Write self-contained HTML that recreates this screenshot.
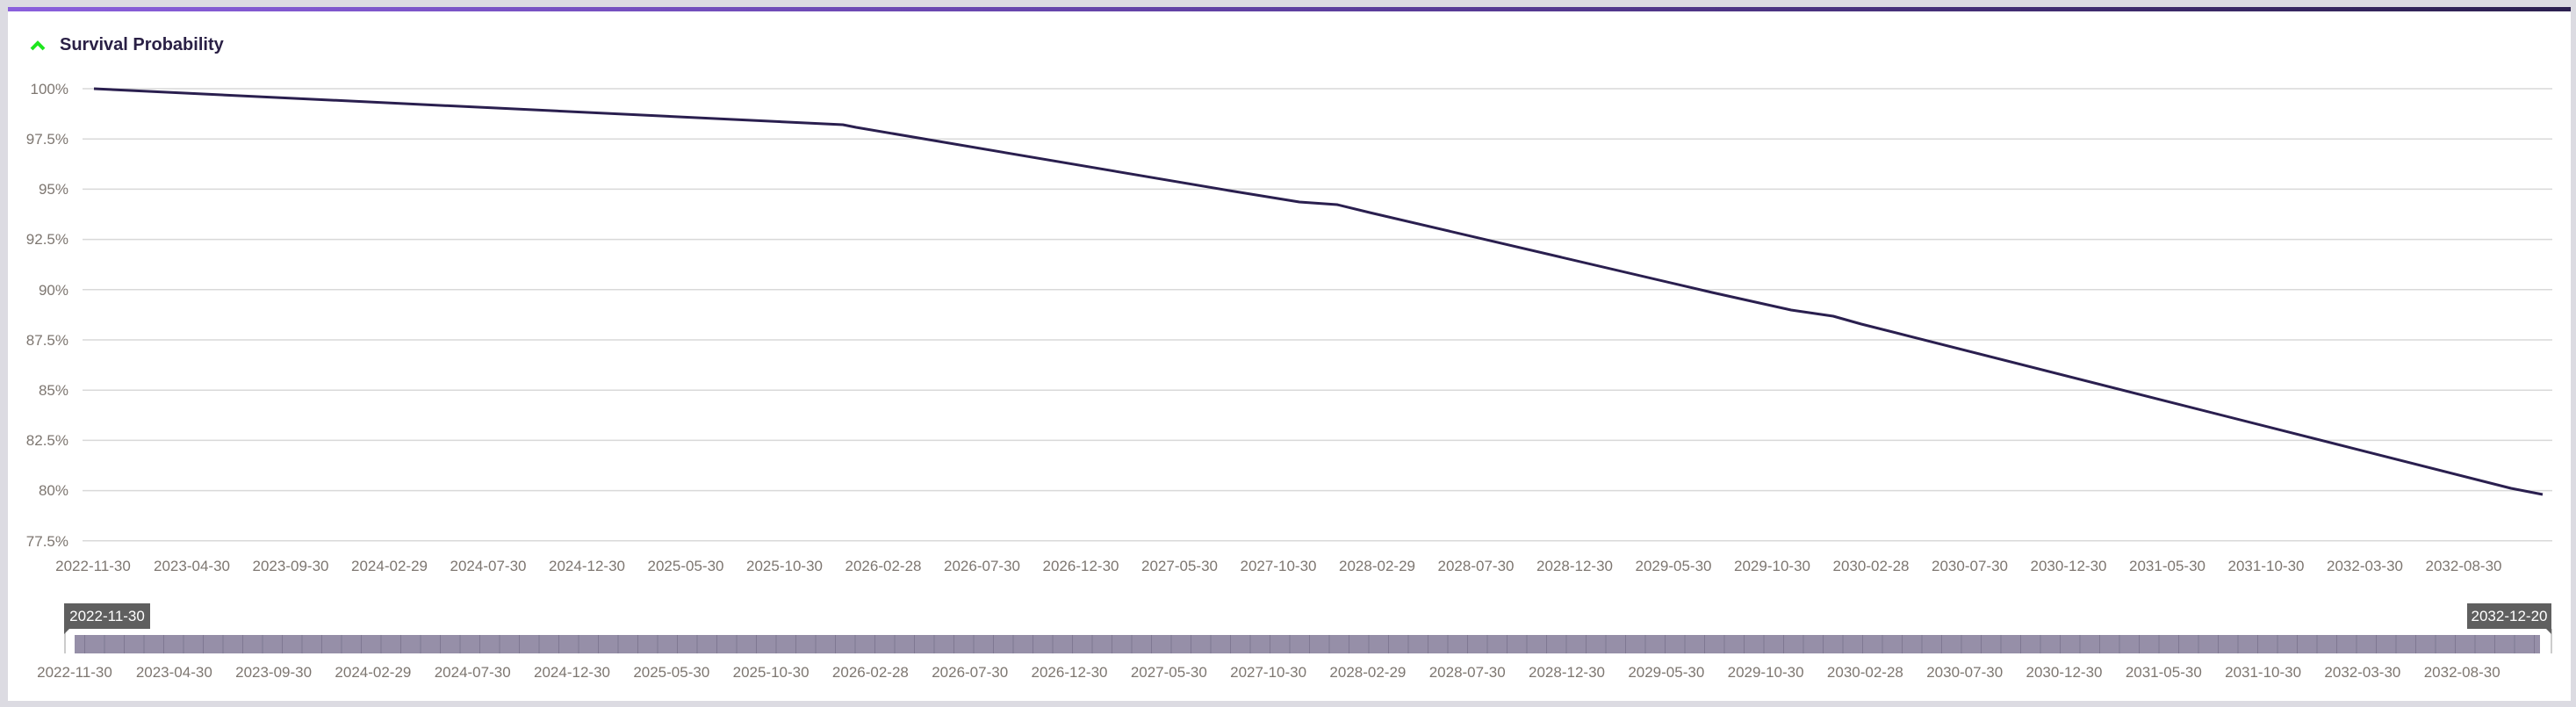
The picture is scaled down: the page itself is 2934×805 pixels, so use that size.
<!DOCTYPE html>
<html><head><meta charset="utf-8"><style>
html,body{margin:0;padding:0;background:#dcdbe2;}
svg{display:block;font-family:"Liberation Sans",sans-serif;}
</style></head><body>
<svg width="2934" height="805" viewBox="0 0 2934 805" xmlns="http://www.w3.org/2000/svg">
<defs><linearGradient id="tb" x1="0" x2="1" y1="0" y2="0"><stop offset="0" stop-color="#8a5fdc"/><stop offset="0.5" stop-color="#5e3fa0"/><stop offset="1" stop-color="#2c2050"/></linearGradient></defs>
<rect x="0" y="0" width="2934" height="805" fill="#dcdbe2"/>
<rect x="9" y="8" width="2919" height="790" fill="#fff"/>
<rect x="9" y="8" width="2919" height="5" fill="url(#tb)"/>
<path d="M36,56 L43,49 L50,56" fill="none" stroke="#1ee61e" stroke-width="4"/>
<text x="68" y="57" font-size="20" font-weight="bold" fill="#2a2045">Survival Probability</text>
<g stroke="#d9d9d9" stroke-width="1.5">
<line x1="94" x2="2907" y1="101" y2="101"/><line x1="94" x2="2907" y1="158.2" y2="158.2"/><line x1="94" x2="2907" y1="215.4" y2="215.4"/><line x1="94" x2="2907" y1="272.6" y2="272.6"/><line x1="94" x2="2907" y1="329.8" y2="329.8"/><line x1="94" x2="2907" y1="387" y2="387"/><line x1="94" x2="2907" y1="444.2" y2="444.2"/><line x1="94" x2="2907" y1="501.4" y2="501.4"/><line x1="94" x2="2907" y1="558.6" y2="558.6"/><line x1="94" x2="2907" y1="615.8" y2="615.8"/>
</g>
<g font-size="17" fill="#7d7670" text-anchor="end">
<text x="78" y="107">100%</text><text x="78" y="164">97.5%</text><text x="78" y="221">95%</text><text x="78" y="278">92.5%</text><text x="78" y="336">90%</text><text x="78" y="393">87.5%</text><text x="78" y="450">85%</text><text x="78" y="507">82.5%</text><text x="78" y="564">80%</text><text x="78" y="622">77.5%</text>
</g>
<path d="M107,101 L960,142 L975,145 L1400,217 L1480,230 L1523,233 L1560,242 L1950,333 L2040,353 L2088,360 L2120,369 L2860,556 L2896,563" fill="none" stroke="#2a1f4f" stroke-width="3" stroke-linejoin="round"/>
<g font-size="17" fill="#7d7670" text-anchor="middle">
<text x="106" y="650">2022-11-30</text><text x="218.5" y="650">2023-04-30</text><text x="331" y="650">2023-09-30</text><text x="443.5" y="650">2024-02-29</text><text x="556" y="650">2024-07-30</text><text x="668.5" y="650">2024-12-30</text><text x="781" y="650">2025-05-30</text><text x="893.5" y="650">2025-10-30</text><text x="1006" y="650">2026-02-28</text><text x="1118.5" y="650">2026-07-30</text><text x="1231" y="650">2026-12-30</text><text x="1343.5" y="650">2027-05-30</text><text x="1456" y="650">2027-10-30</text><text x="1568.5" y="650">2028-02-29</text><text x="1681" y="650">2028-07-30</text><text x="1793.5" y="650">2028-12-30</text><text x="1906" y="650">2029-05-30</text><text x="2018.5" y="650">2029-10-30</text><text x="2131" y="650">2030-02-28</text><text x="2243.5" y="650">2030-07-30</text><text x="2356" y="650">2030-12-30</text><text x="2468.5" y="650">2031-05-30</text><text x="2581" y="650">2031-10-30</text><text x="2693.5" y="650">2032-03-30</text><text x="2806" y="650">2032-08-30</text>
</g>
<rect x="85" y="723" width="2808" height="21" fill="#968fa8"/>
<g id="ticks" stroke="#7f7892" stroke-width="1"></g>
<line x1="74" y1="716" x2="74" y2="744" stroke="#bbb" stroke-width="1.5"/>
<line x1="2906" y1="716" x2="2906" y2="744" stroke="#bbb" stroke-width="1.5"/>
<rect x="73" y="687" width="98" height="29" fill="#5f5f5f"/>
<path d="M73,716 L73,722 L79,716Z" fill="#5f5f5f"/>
<text x="122" y="707" font-size="17" fill="#fff" text-anchor="middle">2022-11-30</text>
<rect x="2810" y="687" width="96" height="29" fill="#5f5f5f"/>
<path d="M2906,716 L2906,722 L2900,716Z" fill="#5f5f5f"/>
<text x="2858" y="707" font-size="17" fill="#fff" text-anchor="middle">2032-12-20</text>
<g font-size="17" fill="#7d7670" text-anchor="middle">
<text x="85" y="771">2022-11-30</text><text x="198.3" y="771">2023-04-30</text><text x="311.6" y="771">2023-09-30</text><text x="424.9" y="771">2024-02-29</text><text x="538.2" y="771">2024-07-30</text><text x="651.5" y="771">2024-12-30</text><text x="764.8" y="771">2025-05-30</text><text x="878.1" y="771">2025-10-30</text><text x="991.4" y="771">2026-02-28</text><text x="1104.7" y="771">2026-07-30</text><text x="1218" y="771">2026-12-30</text><text x="1331.3" y="771">2027-05-30</text><text x="1444.6" y="771">2027-10-30</text><text x="1557.9" y="771">2028-02-29</text><text x="1671.2" y="771">2028-07-30</text><text x="1784.5" y="771">2028-12-30</text><text x="1897.8" y="771">2029-05-30</text><text x="2011.1" y="771">2029-10-30</text><text x="2124.4" y="771">2030-02-28</text><text x="2237.7" y="771">2030-07-30</text><text x="2351" y="771">2030-12-30</text><text x="2464.3" y="771">2031-05-30</text><text x="2577.6" y="771">2031-10-30</text><text x="2690.9" y="771">2032-03-30</text><text x="2804.2" y="771">2032-08-30</text>
</g>
<path stroke="#7f7892" stroke-width="1" d="M96.5,723v21M119,723v21M141.5,723v21M164,723v21M186.5,723v21M209,723v21M231.5,723v21M254,723v21M276.5,723v21M299,723v21M321.5,723v21M344,723v21M366.5,723v21M389,723v21M411.5,723v21M434,723v21M456.5,723v21M479,723v21M501.5,723v21M524,723v21M546.5,723v21M569,723v21M591.5,723v21M614,723v21M636.5,723v21M659,723v21M681.5,723v21M704,723v21M726.5,723v21M749,723v21M771.5,723v21M794,723v21M816.5,723v21M839,723v21M861.5,723v21M884,723v21M906.5,723v21M929,723v21M951.5,723v21M974,723v21M996.5,723v21M1019,723v21M1041.5,723v21M1064,723v21M1086.5,723v21M1109,723v21M1131.5,723v21M1154,723v21M1176.5,723v21M1199,723v21M1221.5,723v21M1244,723v21M1266.5,723v21M1289,723v21M1311.5,723v21M1334,723v21M1356.5,723v21M1379,723v21M1401.5,723v21M1424,723v21M1446.5,723v21M1469,723v21M1491.5,723v21M1514,723v21M1536.5,723v21M1559,723v21M1581.5,723v21M1604,723v21M1626.5,723v21M1649,723v21M1671.5,723v21M1694,723v21M1716.5,723v21M1739,723v21M1761.5,723v21M1784,723v21M1806.5,723v21M1829,723v21M1851.5,723v21M1874,723v21M1896.5,723v21M1919,723v21M1941.5,723v21M1964,723v21M1986.5,723v21M2009,723v21M2031.5,723v21M2054,723v21M2076.5,723v21M2099,723v21M2121.5,723v21M2144,723v21M2166.5,723v21M2189,723v21M2211.5,723v21M2234,723v21M2256.5,723v21M2279,723v21M2301.5,723v21M2324,723v21M2346.5,723v21M2369,723v21M2391.5,723v21M2414,723v21M2436.5,723v21M2459,723v21M2481.5,723v21M2504,723v21M2526.5,723v21M2549,723v21M2571.5,723v21M2594,723v21M2616.5,723v21M2639,723v21M2661.5,723v21M2684,723v21M2706.5,723v21M2729,723v21M2751.5,723v21M2774,723v21M2796.5,723v21M2819,723v21M2841.5,723v21M2864,723v21M2886.5,723v21"/>
</svg>
</body></html>
